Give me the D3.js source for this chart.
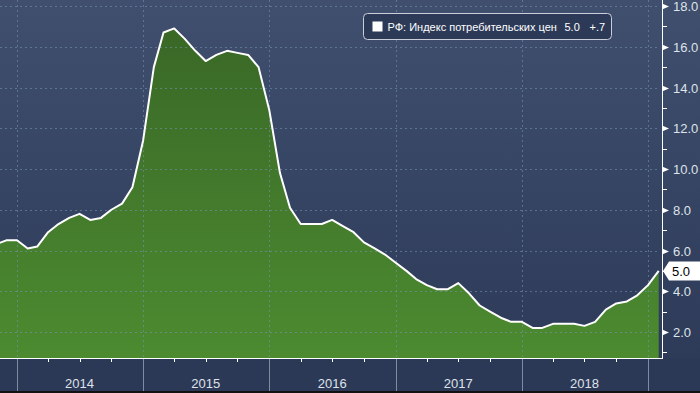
<!DOCTYPE html>
<html>
<head>
<meta charset="utf-8">
<script src="https://cdn.jsdelivr.net/npm/d3@7"></script>
<style>
  html, body { margin: 0; padding: 0; background: #2b3856; }
  svg { display: block; font-family: 'Liberation Sans', Arial, sans-serif; }
</style>
</head>
<body>
<div class="chart"></div>
<script>
// monthly CPI y/y, Oct 2013 .. Jan 2019
const firstMonth = '2013-10-01';
const cpiValues = [
  6.3, 6.5, 6.5,
  6.1, 6.2, 6.9, 7.3, 7.6, 7.8, 7.5, 7.6, 8.0, 8.3, 9.1, 11.4,
  15.0, 16.7, 16.9, 16.4, 15.8, 15.3, 15.6, 15.8, 15.7, 15.6, 15.0, 12.9,
  9.8, 8.1, 7.3, 7.3, 7.3, 7.5, 7.2, 6.9, 6.4, 6.1, 5.8, 5.4,
  5.0, 4.6, 4.3, 4.1, 4.1, 4.4, 3.9, 3.3, 3.0, 2.7, 2.5, 2.5,
  2.2, 2.2, 2.4, 2.4, 2.4, 2.3, 2.5, 3.1, 3.4, 3.5, 3.8, 4.3,
  5.0
];
const yearLabels = ['2014', '2015', '2016', '2017', '2018'];
const yTicks = [2, 4, 6, 8, 10, 12, 14, 16, 18];
const yMinorTicks = [1, 3, 5, 7, 9, 11, 13, 15, 17];
const legendName = 'РФ: Индекс потребительских цен';
const legendLast = '5.0';
const legendChange = '+.7';

const width = 700,
  height = 393,
  plotRight = 660,
  axisX = 662,
  plotBottom = 358;

const parse = d3.timeParse('%Y-%m-%d');
const start = parse(firstMonth);
// each month is drawn at the end of the month
const data = cpiValues.map((v, i) => ({ date: d3.timeMonth.offset(start, i + 1), value: v }));

const x = d3.scaleTime()
  .domain([parse('2014-01-01'), parse('2019-01-01')])
  .range([17, 648]);
const y = d3.scaleLinear().domain([2, 18]).range([332, 6]);

const svg = d3.select('.chart').append('svg')
  .attr('width', width)
  .attr('height', height);

const defs = svg.append('defs');
const bg = defs.append('linearGradient').attr('id', 'bg').attr('x1', 0).attr('y1', 0).attr('x2', 0).attr('y2', 1);
bg.append('stop').attr('offset', '0%').attr('stop-color', '#3f4f6d');
bg.append('stop').attr('offset', '100%').attr('stop-color', '#2d3b59');

const fillGrad = defs.append('linearGradient').attr('id', 'fillGrad')
  .attr('gradientUnits', 'userSpaceOnUse')
  .attr('x1', 0).attr('y1', 0).attr('x2', 0).attr('y2', plotBottom);
fillGrad.append('stop').attr('offset', '0%').attr('stop-color', '#386526');
fillGrad.append('stop').attr('offset', '100%').attr('stop-color', '#4c8b30');

defs.append('clipPath').attr('id', 'plotClip')
  .append('rect').attr('x', 0).attr('y', 0).attr('width', plotRight).attr('height', plotBottom);

// backgrounds
svg.append('rect').attr('width', width).attr('height', plotBottom).attr('fill', 'url(#bg)');
svg.append('rect').attr('y', plotBottom).attr('width', width).attr('height', height - plotBottom).attr('fill', '#2b3856');
svg.append('rect').attr('y', 391).attr('width', width).attr('height', 2).attr('fill', '#111');

const plot = svg.append('g').attr('clip-path', 'url(#plotClip)');

const area = d3.area()
  .x(d => x(d.date))
  .y0(plotBottom)
  .y1(d => y(d.value));

const line = d3.line()
  .x(d => x(d.date))
  .y(d => y(d.value));

plot.append('path')
  .datum(data)
  .attr('d', area)
  .attr('fill', 'url(#fillGrad)');

// grid on top, faint
const yearStarts = d3.timeYear.range(parse('2014-01-01'), parse('2019-01-02'));
plot.selectAll('.hgrid')
  .data(yTicks)
  .enter()
  .append('line')
  .attr('class', 'hgrid')
  .attr('x1', 0)
  .attr('x2', plotRight)
  .attr('y1', d => Math.round(y(d)) + 0.5)
  .attr('y2', d => Math.round(y(d)) + 0.5)
  .attr('stroke', 'rgba(120,150,185,0.55)')
  .attr('stroke-dasharray', '2,3');

plot.selectAll('.vgrid')
  .data(yearStarts)
  .enter()
  .append('line')
  .attr('class', 'vgrid')
  .attr('x1', d => Math.round(x(d)) + 0.5)
  .attr('x2', d => Math.round(x(d)) + 0.5)
  .attr('y1', 0)
  .attr('y2', plotBottom)
  .attr('stroke', 'rgba(120,150,185,0.55)')
  .attr('stroke-dasharray', '2,3');

plot.append('path')
  .datum(data)
  .attr('d', line)
  .attr('fill', 'none')
  .attr('stroke', '#fff')
  .attr('stroke-width', 2)
  .attr('stroke-linejoin', 'round');

// right axis
svg.append('line')
  .attr('x1', axisX + 0.5).attr('x2', axisX + 0.5)
  .attr('y1', 0).attr('y2', plotBottom + 0.5)
  .attr('stroke', '#fff');

svg.selectAll('.minor')
  .data(yMinorTicks)
  .enter()
  .append('line')
  .attr('class', 'minor')
  .attr('x1', axisX).attr('x2', axisX + 5)
  .attr('y1', d => Math.round(y(d)) + 0.5)
  .attr('y2', d => Math.round(y(d)) + 0.5)
  .attr('stroke', '#fff');

const major = svg.selectAll('.major')
  .data(yTicks)
  .enter()
  .append('g')
  .attr('class', 'major')
  .attr('transform', d => `translate(${axisX}, ${Math.round(y(d)) + 0.5})`);

major.append('path')
  .attr('d', 'M0,-3L7,0L0,3Z')
  .attr('fill', '#fff');

major.append('text')
  .attr('x', 11)
  .attr('dy', '0.36em')
  .attr('fill', '#dfe3ea')
  .style('font-size', '13px')
  .text(d => d3.format('.1f')(d));

// bottom axis
svg.append('line')
  .attr('x1', 0).attr('x2', axisX + 1)
  .attr('y1', plotBottom + 0.5).attr('y2', plotBottom + 0.5)
  .attr('stroke', '#fff');

const quarters = d3.timeMonth.every(3).range(parse('2014-01-01'), parse('2019-01-02'))
  .filter(d => d.getMonth() !== 0);
svg.selectAll('.qtick')
  .data(quarters)
  .enter()
  .append('line')
  .attr('class', 'qtick')
  .attr('x1', d => Math.round(x(d)) + 0.5)
  .attr('x2', d => Math.round(x(d)) + 0.5)
  .attr('y1', plotBottom)
  .attr('y2', plotBottom + 4)
  .attr('stroke', '#fff');

svg.selectAll('.ysep')
  .data(yearStarts)
  .enter()
  .append('line')
  .attr('class', 'ysep')
  .attr('x1', d => Math.round(x(d)) + 0.5)
  .attr('x2', d => Math.round(x(d)) + 0.5)
  .attr('y1', plotBottom + 1)
  .attr('y2', 391)
  .attr('stroke', '#7f8ba3');

svg.selectAll('.ylabel')
  .data(yearLabels)
  .enter()
  .append('text')
  .attr('class', 'ylabel')
  .attr('x', d => x(d3.timeMonth.offset(parse(d + '-01-01'), 6)))
  .attr('y', 388)
  .attr('text-anchor', 'middle')
  .attr('fill', '#dfe3ea')
  .style('font-size', '13px')
  .text(d => d);

// last value marker
const last = data[data.length - 1];
const ly = Math.round(y(last.value));
const marker = svg.append('g').attr('transform', `translate(${axisX + 1}, ${ly})`);
marker.append('path')
  .attr('d', 'M0,0L6,-9.5L40,-9.5L40,9.5L6,9.5Z')
  .attr('fill', '#fff');
marker.append('text')
  .attr('x', 9)
  .attr('dy', '0.36em')
  .attr('fill', '#000')
  .style('font-size', '13px')
  .text(d3.format('.1f')(last.value));

// legend
const legend = svg.append('g').attr('transform', 'translate(363.5, 13.5)');
legend.append('rect')
  .attr('width', 248)
  .attr('height', 26)
  .attr('rx', 4)
  .attr('fill', '#2c3a58')
  .attr('stroke', '#c9ced8');
legend.append('rect')
  .attr('x', 9).attr('y', 8)
  .attr('width', 10).attr('height', 10)
  .attr('fill', '#fff');
legend.append('text')
  .attr('x', 24).attr('y', 17)
  .attr('fill', '#fff')
  .style('font-size', '11px')
  .text(legendName);
legend.append('text')
  .attr('x', 201).attr('y', 17)
  .attr('fill', '#fff')
  .style('font-size', '11px')
  .text(legendLast);
legend.append('text')
  .attr('x', 226).attr('y', 17)
  .attr('fill', '#fff')
  .style('font-size', '11px')
  .text(legendChange);
</script>
</body>
</html>
